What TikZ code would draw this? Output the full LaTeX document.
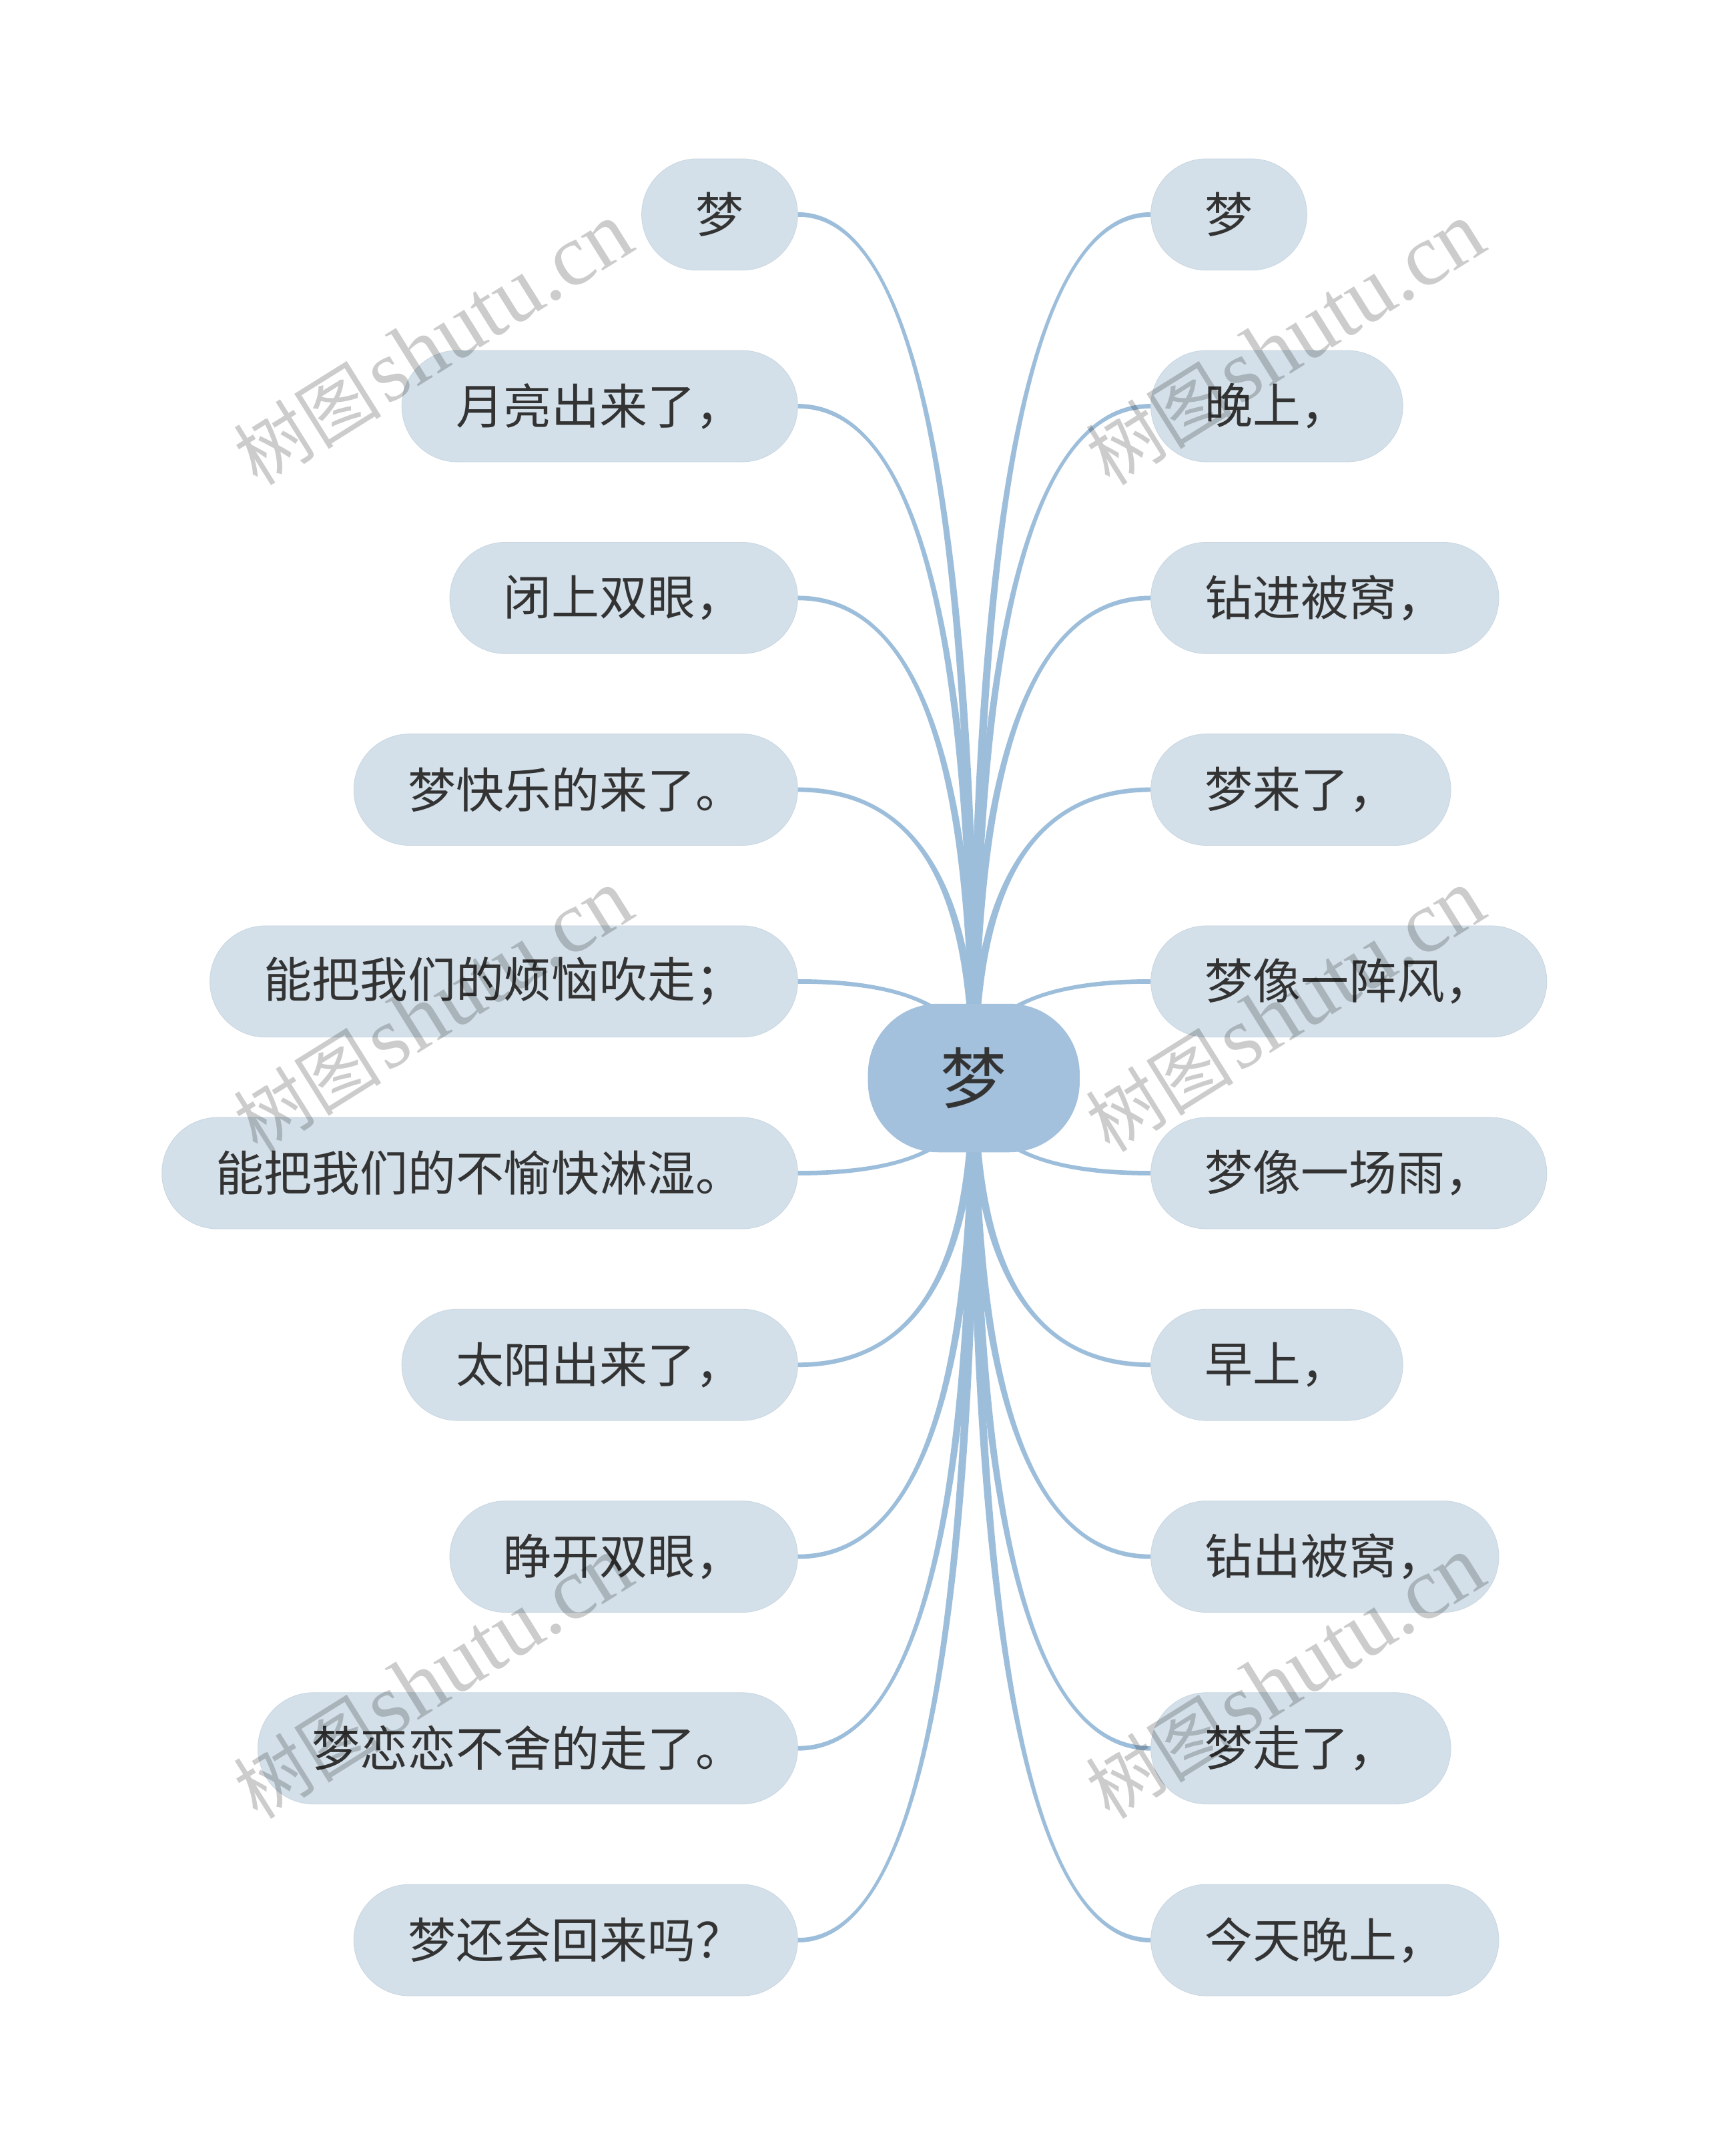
\documentclass[tikz,border=0pt]{standalone}
\usepackage{fontspec}
\newfontfamily\cjk{Noto Sans CJK SC}
\newfontfamily\wmlat{Liberation Serif}
\usetikzlibrary{calc}
\definecolor{nodefill}{HTML}{D3E0E9}
\definecolor{nodeedge}{HTML}{C8D6E0}
\definecolor{centerfill}{HTML}{A3C0DC}
\definecolor{linec}{HTML}{9DBEDB}
\definecolor{txt}{HTML}{333333}
\pgfdeclarelayer{bg}
\pgfsetlayers{bg,main}
\newcommand\hA{1.65pt}
\newcommand\hB{3.2pt}
% quadratic-like branch (control at the corner), drawn as a tapered band
% #1 anchor of leaf, #2 = +1 left leaf / -1 right leaf, #3 = +1 leaf above root / -1 below
\newcommand\mybranch[3]{%
  \fill[linec] let \p1=(#1), \p2=(root) in
   (\x1,{\y1+(#2)*\hA}) .. controls ({\x1+2*(\x2-\x1)/3},{\y1+(#2)*\hA}) and ({\x2+(#3)*\hB},{\y1+(\y2-\y1)/3}) .. ({\x2+(#3)*\hB},\y2)
   -- ({\x2-(#3)*\hB},\y2) .. controls ({\x2-(#3)*\hB},{\y1+(\y2-\y1)/3}) and ({\x1+2*(\x2-\x1)/3},{\y1-(#2)*\hA}) .. (\x1,{\y1-(#2)*\hA}) -- cycle;}
\begin{document}
\begin{tikzpicture}[x=1pt,y=1pt,
  leaf/.style={fill=nodefill,draw=nodeedge,line width=0.4pt,rounded corners=40.5pt,
    minimum height=81pt,inner xsep=39.3pt,inner ysep=0pt,text=txt,
    font=\cjk\fontsize{34.9}{40}\selectfont},
  leftleaf/.style={leaf,anchor=east},
  rightleaf/.style={leaf,anchor=west},
  rootnode/.style={fill=centerfill,rounded corners=51pt,minimum width=154pt,
    minimum height=108pt,inner sep=0pt,text=txt,font=\cjk\fontsize{48}{54}\selectfont},
  wm/.style={rotate=32,text=black,text opacity=0.2,inner sep=0pt}]
\path[use as bounding box] (0,0) rectangle (1243,-1568);

\node[rootnode] (root) at (708.4,-784) {梦};

\node[leftleaf] (l1) at (580.5,-156.0) {梦};
\node[leftleaf] (l2) at (580.5,-295.4) {月亮出来了，};
\node[leftleaf] (l3) at (580.5,-434.9) {闭上双眼，};
\node[leftleaf] (l4) at (580.5,-574.3) {梦快乐的来了。};
\node[leftleaf] (l5) at (580.5,-713.8) {能把我们的烦恼吹走；};
\node[leftleaf] (l6) at (580.5,-853.2) {能把我们的不愉快淋湿。};
\node[leftleaf] (l7) at (580.5,-992.6) {太阳出来了，};
\node[leftleaf] (l8) at (580.5,-1132.1) {睁开双眼，};
\node[leftleaf] (l9) at (580.5,-1271.5) {梦恋恋不舍的走了。};
\node[leftleaf] (l10) at (580.5,-1411.0) {梦还会回来吗？};

\node[rightleaf] (r1) at (837,-156.0) {梦};
\node[rightleaf] (r2) at (837,-295.4) {晚上，};
\node[rightleaf] (r3) at (837,-434.9) {钻进被窝，};
\node[rightleaf] (r4) at (837,-574.3) {梦来了，};
\node[rightleaf] (r5) at (837,-713.8) {梦像一阵风，};
\node[rightleaf] (r6) at (837,-853.2) {梦像一场雨，};
\node[rightleaf] (r7) at (837,-992.6) {早上，};
\node[rightleaf] (r8) at (837,-1132.1) {钻出被窝，};
\node[rightleaf] (r9) at (837,-1271.5) {梦走了，};
\node[rightleaf] (r10) at (837,-1411.0) {今天晚上，};

\begin{pgfonlayer}{bg}
\fill[white] (0,0) rectangle (1243,-1568);
\foreach \i in {1,...,5} {\mybranch{l\i.east}{1}{1}\mybranch{r\i.west}{-1}{1}}
\foreach \i in {6,...,10} {\mybranch{l\i.east}{1}{-1}\mybranch{r\i.west}{-1}{-1}}
\end{pgfonlayer}

\foreach \x/\y [count=\k] in {315/-250,935/-250,315/-735,935/-735,315/-1220,935/-1220}
  \node[wm] (wm\k) at (\x,\y) {{\cjk\fontsize{54}{60}\selectfont 树图} {\wmlat\fontsize{64}{70}\selectfont shutu.cn}};
\end{tikzpicture}
\end{document}
